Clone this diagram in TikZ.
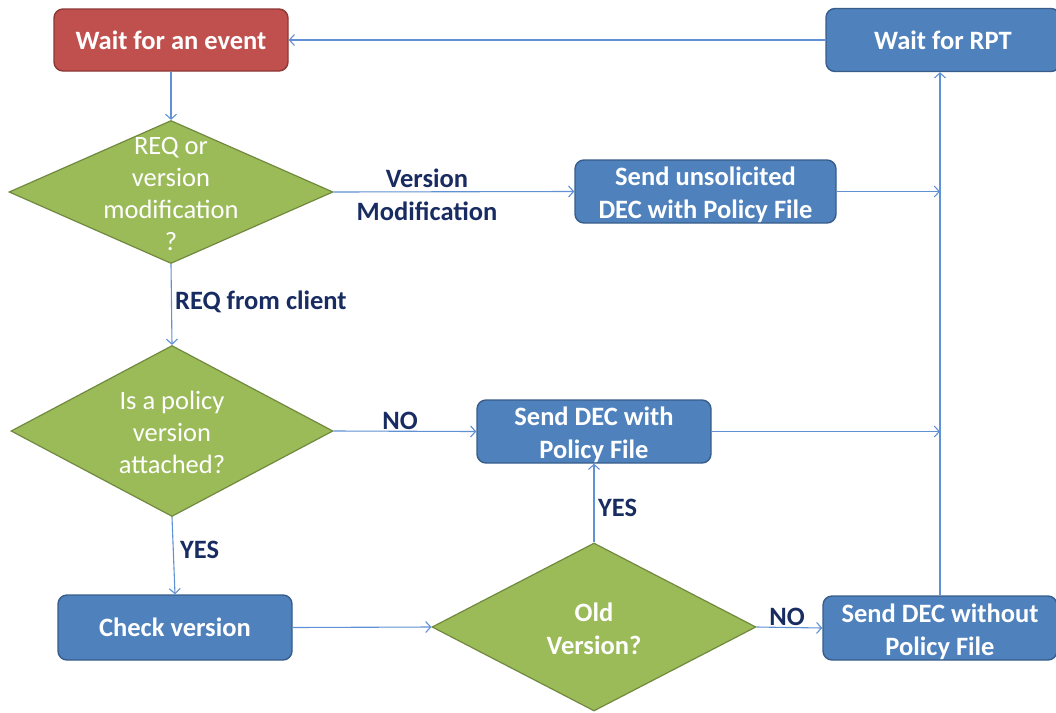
\documentclass[tikz,border=0pt]{standalone}
\usepackage{fontspec}
\setmainfont{Carlito}
\usetikzlibrary{shapes.geometric,arrows.meta}

\definecolor{boxblue}{RGB}{79,129,189}
\definecolor{boxblueline}{RGB}{56,93,138}
\definecolor{boxred}{RGB}{192,80,77}
\definecolor{boxredline}{RGB}{140,56,54}
\definecolor{decgreen}{RGB}{155,187,89}
\definecolor{decgreenline}{RGB}{113,137,63}
\definecolor{flowline}{RGB}{95,145,212}
\definecolor{labelnavy}{RGB}{24,44,98}

\tikzset{
  boxfont/.style={font=\bfseries\fontsize{26.5}{33}\selectfont},
  procbox/.style={rectangle, rounded corners=9pt, draw=boxblueline, line width=1.4pt,
    fill=boxblue, text=white, align=center, inner sep=0pt, boxfont},
  startbox/.style={procbox, draw=boxredline, fill=boxred},
  % two-line caption placed on a box, set slightly below its centre
  boxtext/.style={label={[text=white, align=center, inner sep=0pt, boxfont, yshift=-3.5pt]center:#1}},
  decision/.style={diamond, draw=decgreenline, line width=1.2pt, fill=decgreen, inner sep=0pt},
  dectext/.style={text=white, align=center, inner sep=0pt, font=\fontsize{26.5}{32}\selectfont},
  arr/.style={draw=flowline, line width=1.1pt, -{Straight Barb[length=5pt,width=11pt]}},
  edgelabel/.style={text=labelnavy, font=\bfseries\fontsize{26.5}{33}\selectfont, align=center, inner sep=0pt}
}

\begin{document}
\begin{tikzpicture}[x=1pt,y=-1pt]
\useasboundingbox (0,0) rectangle (1056,712);

% process boxes
\node[startbox, minimum width=234pt, minimum height=62pt] (ev) at (171,40) {Wait for an event};
\node[procbox, minimum width=234pt, minimum height=63pt] (rpt) at (943,40) {Wait for RPT};
\node[procbox, minimum width=261pt, minimum height=63pt,
  boxtext={Send unsolicited\\DEC with Policy File}] (su) at (705.5,191.5) {};
\node[procbox, minimum width=234pt, minimum height=63pt,
  boxtext={Send DEC with\\Policy File}] (sdw) at (594,431.5) {};
\node[procbox, minimum width=234pt, minimum height=65pt] (cv) at (175,627.5) {Check version};
\node[procbox, minimum width=234pt, minimum height=64pt,
  boxtext={Send DEC without\\Policy File}] (sdwo) at (940,628) {};

% decisions: the shape is sized by its minimum dimensions, the text sits on top
\node[decision, minimum width=324pt, minimum height=143pt] (d1) at (171,192) {};
\node[dectext] (d1t) at (171,194) {REQ or\\version\\modification\\?};
\node[decision, minimum width=322pt, minimum height=171pt] (d2) at (172,431) {};
\node[dectext] (d2t) at (172,432) {Is a policy\\version\\attached?};
\node[decision, minimum width=324pt, minimum height=168pt] (d3) at (594,627) {};
\node[dectext, font=\bfseries\fontsize{26.5}{33}\selectfont] (d3t) at (594,628.5) {Old\\Version?};

% connectors
\draw[arr] (rpt.west) -- (ev.east);
\draw[arr] (ev.south) -- (d1.north);
\draw[arr] (d1.east) -- (su.west);
\draw[arr] (su.east) -- (su.east -| sdwo.north);
\draw[arr] (d1.south) -- (d2.north);
\draw[arr] (d2.east) -- (sdw.west);
\draw[arr] (sdw.east) -- (sdw.east -| sdwo.north);
\draw[arr] (d2.south) -- (cv.north);
\draw[arr] (cv.east) -- (d3.west);
\draw[arr] (d3.north) -- (sdw.south);
\draw[arr] (d3.east) -- (sdwo.west);
\draw[arr] (sdwo.north) -- (sdwo.north |- rpt.south);

% connector labels
\node[edgelabel] (lvm) at (427,195) {Version\\Modification};
\node[edgelabel, anchor=west] (lreq) at (175,302) {REQ from client};
\node[edgelabel] (lno1) at (400,421) {NO};
\node[edgelabel, anchor=west] (lyes1) at (180,550) {YES};
\node[edgelabel, anchor=west] (lyes2) at (598,508) {YES};
\node[edgelabel] (lno2) at (787,617) {NO};
\end{tikzpicture}
\end{document}
